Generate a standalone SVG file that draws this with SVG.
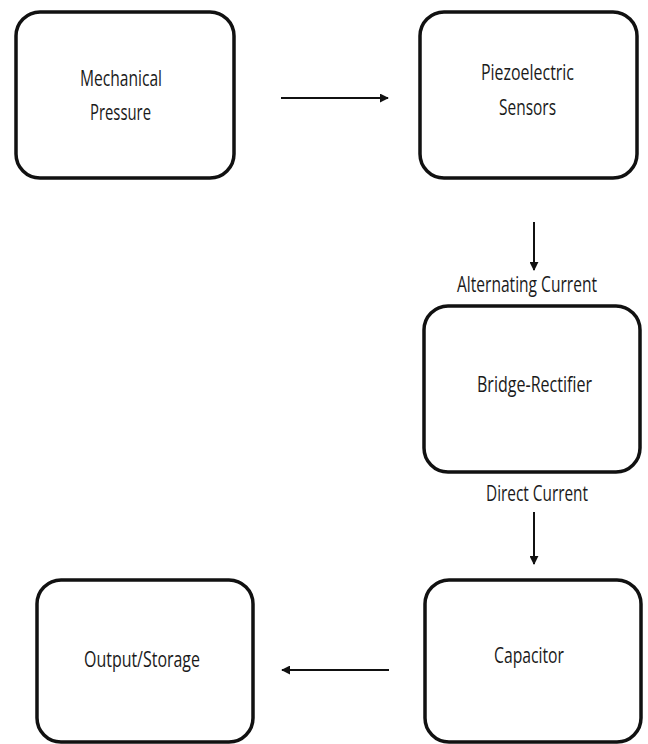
<svg xmlns="http://www.w3.org/2000/svg" width="648" height="744" viewBox="0 0 648 744">
<style>
.box{fill:#fff;stroke:#111;stroke-width:3.5}
.lbl{font-family:"Open Sans","Liberation Sans",sans-serif;font-size:22px;fill:#1a1a1a}
.con{stroke:#111;stroke-width:2;fill:none;marker-end:url(#ah)}
</style>
<defs>
<marker id="ah" viewBox="0 0 10 10" refX="9" refY="5" markerWidth="4.5" markerHeight="4.5" markerUnits="strokeWidth" orient="auto">
<path d="M0,0 L10,5 L0,10 z" fill="#111"/>
</marker>
</defs>
<rect width="648" height="744" fill="#fff"/>
<g id="mechanical-pressure">
<rect class="box" x="16" y="12" width="218" height="166" rx="24"/>
<text class="lbl" x="80" y="86" textLength="82" lengthAdjust="spacingAndGlyphs">Mechanical</text>
<text class="lbl" x="90" y="120" textLength="61" lengthAdjust="spacingAndGlyphs">Pressure</text>
</g>
<g id="piezoelectric-sensors">
<rect class="box" x="420" y="12" width="217" height="166" rx="24"/>
<text class="lbl" x="481" y="80" textLength="93" lengthAdjust="spacingAndGlyphs">Piezoelectric</text>
<text class="lbl" x="499" y="115" textLength="57" lengthAdjust="spacingAndGlyphs">Sensors</text>
</g>
<g id="bridge-rectifier">
<rect class="box" x="424" y="306" width="216" height="166" rx="24"/>
<text class="lbl" x="477" y="392" textLength="115" lengthAdjust="spacingAndGlyphs">Bridge-Rectifier</text>
</g>
<g id="capacitor">
<rect class="box" x="425" y="580" width="216" height="162" rx="24"/>
<text class="lbl" x="494" y="663" textLength="70" lengthAdjust="spacingAndGlyphs">Capacitor</text>
</g>
<g id="output-storage">
<rect class="box" x="37" y="580" width="216" height="162" rx="24"/>
<text class="lbl" x="84" y="667" textLength="116" lengthAdjust="spacingAndGlyphs">Output/Storage</text>
</g>
<g id="connectors">
<line class="con" x1="281" y1="98" x2="388" y2="98"/>
<line class="con" x1="534" y1="222" x2="534" y2="270"/>
<text class="lbl" x="457" y="292" textLength="140" lengthAdjust="spacingAndGlyphs">Alternating Current</text>
<text class="lbl" x="486" y="501" textLength="102" lengthAdjust="spacingAndGlyphs">Direct Current</text>
<line class="con" x1="534" y1="512" x2="534" y2="564"/>
<line class="con" x1="389" y1="670" x2="282" y2="670"/>
</g>
</svg>
